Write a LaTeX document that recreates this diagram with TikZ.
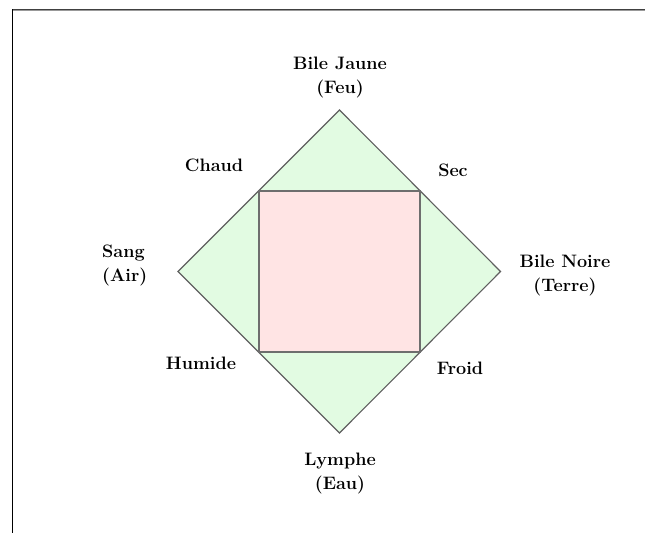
\documentclass[tikz,border=0pt]{standalone}
\usepackage{fontspec}
\usetikzlibrary{calc}
\definecolor{dgreen}{RGB}{226,251,226}
\definecolor{dpink}{RGB}{255,228,228}
\definecolor{edgegray}{RGB}{95,95,95}
\definecolor{sqgray}{RGB}{110,110,110}
\tikzset{
  lbl/.style={font=\fontsize{18}{24}\selectfont\bfseries, inner sep=0pt, align=center, anchor=north},
}
\begin{document}
\begin{tikzpicture}[x=1pt,y=-1pt]
\useasboundingbox (0,0) rectangle (645,533);
% frame
\draw[line width=1.2pt, black!75] (12,9.6) -- (645,9.6);
\draw[line width=0.8pt, black!40] (12,10.8) -- (645,10.8);
\draw[line width=1.3pt, black] (12.3,9) -- (12.3,533);
% diamond
\coordinate (T) at (339.5,110);
\coordinate (R) at (500.5,271.5);
\coordinate (B) at (339.5,433);
\coordinate (L) at (178,271.5);
\draw[fill=dgreen, draw=edgegray, line width=1.1pt, line join=miter] (T) -- (R) -- (B) -- (L) -- cycle;
% inner square
\draw[fill=dpink, draw=sqgray, line width=1.8pt] ($(L)!0.5!(T)$) coordinate (c1) -- ($(T)!0.5!(R)$) coordinate (c2) -- ($(R)!0.5!(B)$) coordinate (c3) -- ($(B)!0.5!(L)$) coordinate (c4) -- cycle;
% labels
\node[lbl] (feu) at (340,57) {Bile Jaune\\(Feu)};
\node[lbl] (terre) at (565,254.5) {Bile Noire\\(Terre)};
\node[lbl, anchor=north west, align=left] (air) at (102,245) {Sang\\(Air)};
\node[lbl] (eau) at (340,452.5) {Lymphe\\(Eau)};
\node[lbl] (chaud) at (214,159) {Chaud};
\node[lbl] (sec) at (453,164) {Sec};
\node[lbl] (humide) at (201,357) {Humide};
\node[lbl] (froid) at (460,362) {Froid};
\end{tikzpicture}
\end{document}
